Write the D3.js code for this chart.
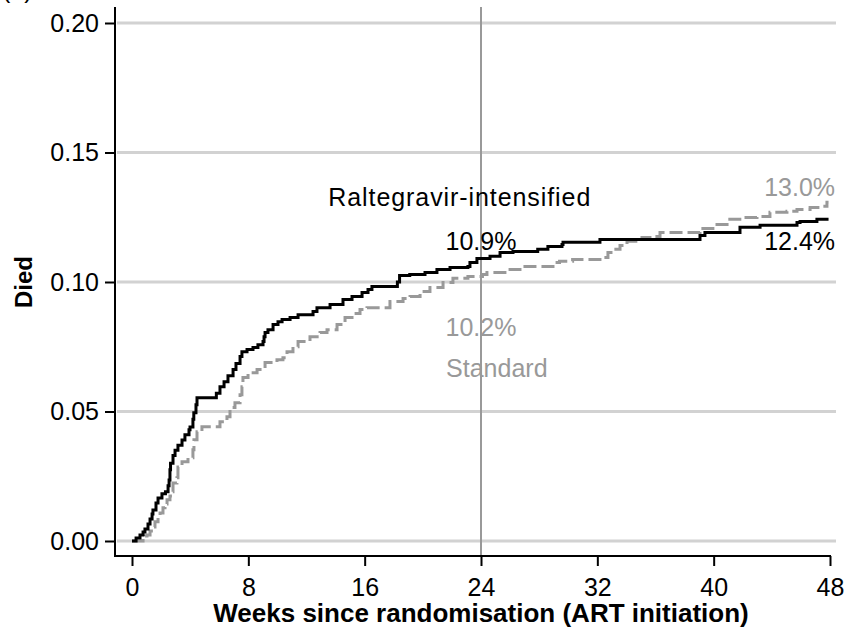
<!DOCTYPE html>
<html>
<head>
<meta charset="utf-8">
<script src="https://cdn.jsdelivr.net/npm/d3@7/dist/d3.min.js"></script>
<style>
  body { margin: 0; background: #fff; }
  svg text { font-family: "Liberation Sans", Arial, sans-serif; }
</style>
</head>
<body>
<script>
// axis ticks
const xTicks = [0, 8, 16, 24, 32, 40, 48];
const yTicks = [0, 0.05, 0.10, 0.15, 0.20];

// Raltegravir-intensified arm: week of each step, cumulative proportion died
const raltWeeks = [0, 0.28, 0.55, 0.76, 0.89, 1.10, 1.24, 1.38, 1.44, 1.65, 1.79, 2.06, 2.30, 2.48, 2.55, 2.61, 2.65,
  2.82, 2.96, 3.16, 3.44, 3.64, 3.92, 3.99, 4.19, 4.25, 4.40, 4.47, 5.80, 6.05, 6.33, 6.60, 6.95, 7.15, 7.43,
  7.56, 7.91, 8.32, 8.66, 9.01, 9.08, 9.15, 9.35, 9.70, 10.04, 10.32, 10.87, 11.42, 12.45, 12.72, 13.62,
  14.51, 15.13, 15.82, 16.23, 16.50, 18.25, 18.40, 19.10, 20.15, 20.97, 21.87, 23.10, 23.24, 23.72, 24.62,
  25.31, 26.20, 27.90, 28.60, 29.57, 29.64, 32.18, 39.06, 39.40, 41.81, 43.19, 45.73, 45.94, 47.10, 47.90];
const raltDied = [0, 0.0012, 0.0023, 0.0035, 0.0046, 0.0066, 0.0085, 0.0104, 0.0120, 0.0147, 0.0166, 0.0182, 0.0190, 0.0213, 0.0236, 0.0275, 0.0300,
  0.0330, 0.0350, 0.0370, 0.0390, 0.0410, 0.0430, 0.0440, 0.0470, 0.0495, 0.0526, 0.0553, 0.0570, 0.0596, 0.0615, 0.0638, 0.0662, 0.0685, 0.0712,
  0.0731, 0.0739, 0.0747, 0.0758, 0.0770, 0.0789, 0.0805, 0.0816, 0.0836, 0.0847, 0.0855, 0.0863, 0.0874, 0.0886, 0.0901, 0.0913,
  0.0932, 0.0944, 0.0959, 0.0971, 0.0983, 0.1000, 0.1025, 0.1029, 0.1037, 0.1048, 0.1056, 0.1060, 0.1075, 0.1091, 0.1099,
  0.1114, 0.1118, 0.1126, 0.1137, 0.1145, 0.1153, 0.1164, 0.1180, 0.1191, 0.1211, 0.1219, 0.1230, 0.1234, 0.1242, 0.1242];

// Standard arm
const stdWeeks = [0, 0.76, 0.90, 1.03, 1.24, 1.44, 1.58, 1.79, 1.93, 2.13, 2.27, 2.41, 2.61, 2.75, 2.82, 3.09, 3.16,
  3.44, 3.85, 4.19, 4.26, 4.47, 4.81, 6.05, 6.53, 6.74, 7.08, 7.43, 7.56, 7.63, 7.98, 8.60, 9.15, 9.97, 10.38,
  10.66, 11.07, 11.42, 12.24, 12.93, 13.41, 14.10, 14.65, 15.13, 15.68, 16.16, 17.74, 18.64, 19.12, 19.81, 20.49,
  21.39, 22.07, 23.10, 24.10, 24.41, 25.79, 26.68, 28.95, 29.40, 30.30, 32.18, 32.73, 33.08, 33.56, 34.04, 35.07,
  35.80, 36.31, 39.06, 40.23, 40.92, 42.02, 42.98, 43.87, 45.04, 45.73, 46.63, 47.31, 47.79, 47.90];
const stdDied = [0, 0.0012, 0.0019, 0.0023, 0.0039, 0.0054, 0.0074, 0.0089, 0.0108, 0.0128, 0.0143, 0.0159, 0.0174, 0.0190, 0.0224, 0.0244, 0.0286,
  0.0306, 0.0321, 0.0352, 0.0391, 0.0422, 0.0441, 0.0460, 0.0480, 0.0515, 0.0534, 0.0565, 0.0596, 0.0631, 0.0650, 0.0662, 0.0689, 0.0700, 0.0708,
  0.0731, 0.0750, 0.0770, 0.0789, 0.0805, 0.0816, 0.0836, 0.0863, 0.0878, 0.0894, 0.0901, 0.0925, 0.0936, 0.0944, 0.0963, 0.0979,
  0.0998, 0.1014, 0.1021, 0.1029, 0.1037, 0.1048, 0.1060, 0.1075, 0.1080, 0.1087, 0.1095, 0.1114, 0.1126, 0.1141, 0.1157, 0.1172,
  0.1176, 0.1191, 0.1207, 0.1222, 0.1242, 0.1249, 0.1253, 0.1269, 0.1273, 0.1280, 0.1288, 0.1292, 0.1308, 0.1308];

const black = '#000';
const grey = '#999';

const width = 849;
const height = 630;

const x = d3.scaleLinear().domain([0, 48]).range([132, 830]);
const y = d3.scaleLinear().domain([0, 0.20]).range([541, 23]);

const axisX = 115;   // y axis sits left of week 0
const axisY = 556;   // x axis sits below 0.00
const plotTop = 7;

const svg = d3.select('body')
  .append('svg')
    .attr('width', width)
    .attr('height', height);

// panel letter, mostly cut off at the top edge
svg.append('text')
    .attr('x', 2)
    .attr('y', -2)
    .style('font-size', '25px')
    .text('(a)');

// horizontal grid lines
svg.append('g')
  .selectAll('line')
  .data(yTicks)
  .enter().append('line')
    .attr('x1', axisX + 2)
    .attr('x2', 836)
    .attr('y1', (d) => y(d))
    .attr('y2', (d) => y(d))
    .attr('stroke', '#d2d2d2')
    .attr('stroke-width', 3);

// reference line at 24 weeks
svg.append('line')
    .attr('x1', x(24))
    .attr('x2', x(24))
    .attr('y1', plotTop)
    .attr('y2', axisY)
    .attr('stroke', grey)
    .attr('stroke-width', 2);

// y axis
const yAxis = d3.axisLeft(y)
  .tickValues(yTicks)
  .tickFormat(d3.format('.2f'))
  .tickSize(10)
  .tickSizeOuter(0)
  .tickPadding(6);

const gy = svg.append('g')
    .attr('transform', 'translate(' + axisX + ',0)')
    .call(yAxis);
gy.select('.domain').remove();
gy.selectAll('line').attr('stroke', black).attr('stroke-width', 2);
gy.selectAll('text').style('font-size', '25px').attr('fill', black);
gy.append('line')
    .attr('y1', plotTop)
    .attr('y2', axisY + 1)
    .attr('stroke', black)
    .attr('stroke-width', 2);

// x axis
const xAxis = d3.axisBottom(x)
  .tickValues(xTicks)
  .tickSize(10)
  .tickSizeOuter(0)
  .tickPadding(12);

const gx = svg.append('g')
    .attr('transform', 'translate(0,' + axisY + ')')
    .call(xAxis);
gx.select('.domain').remove();
gx.selectAll('line').attr('stroke', black).attr('stroke-width', 2);
gx.selectAll('text').style('font-size', '25px').attr('fill', black);
gx.append('line')
    .attr('x1', axisX - 1)
    .attr('x2', x(48) + 1)
    .attr('stroke', black)
    .attr('stroke-width', 2);

// axis titles
svg.append('text')
    .attr('x', x(24))
    .attr('y', 622)
    .style('text-anchor', 'middle')
    .style('font-size', '26px')
    .style('font-weight', 'bold')
    .text('Weeks since randomisation (ART initiation)');

svg.append('text')
    .attr('transform', 'translate(32,' + y(0.10) + ') rotate(-90)')
    .style('text-anchor', 'middle')
    .style('font-size', '24px')
    .style('font-weight', 'bold')
    .text('Died');

// cumulative mortality step curves
const line = d3.line()
  .x((d) => x(d[0]))
  .y((d) => y(d[1]))
  .curve(d3.curveStepAfter);

const stdData = d3.zip(stdWeeks, stdDied);
const raltData = d3.zip(raltWeeks, raltDied);

svg.append('path')
    .datum(stdData)
    .attr('fill', 'none')
    .attr('stroke', grey)
    .attr('stroke-width', 3)
    .attr('stroke-dasharray', '13,5')
    .attr('d', line);

svg.append('path')
    .datum(raltData)
    .attr('fill', 'none')
    .attr('stroke', black)
    .attr('stroke-width', 3)
    .attr('d', line);

// text labels on the plot
const labels = [
  { text: 'Raltegravir-intensified', wk: 13.5, p: 0.1295, anchor: 'start', color: black, fit: 262 },
  { text: '10.9%', wk: 24, p: 0.1123, anchor: 'middle', color: black },
  { text: '10.2%', wk: 24, p: 0.0792, anchor: 'middle', color: grey },
  { text: 'Standard', wk: 21.6, p: 0.0634, anchor: 'start', color: grey },
  { text: '13.0%', wk: 48.35, p: 0.1331, anchor: 'end', color: grey },
  { text: '12.4%', wk: 48.35, p: 0.1124, anchor: 'end', color: black }
];

const labelText = svg.append('g')
  .selectAll('text')
  .data(labels)
  .enter().append('text')
    .attr('x', (d) => x(d.wk))
    .attr('y', (d) => y(d.p))
    .style('text-anchor', (d) => d.anchor)
    .style('font-size', '25px')
    .attr('fill', (d) => d.color)
    .text((d) => d.text);

// the long series label is set a little looser in the original
labelText.filter((d) => d.fit)
    .attr('textLength', (d) => d.fit)
    .attr('lengthAdjust', 'spacing');
</script>
</body>
</html>
